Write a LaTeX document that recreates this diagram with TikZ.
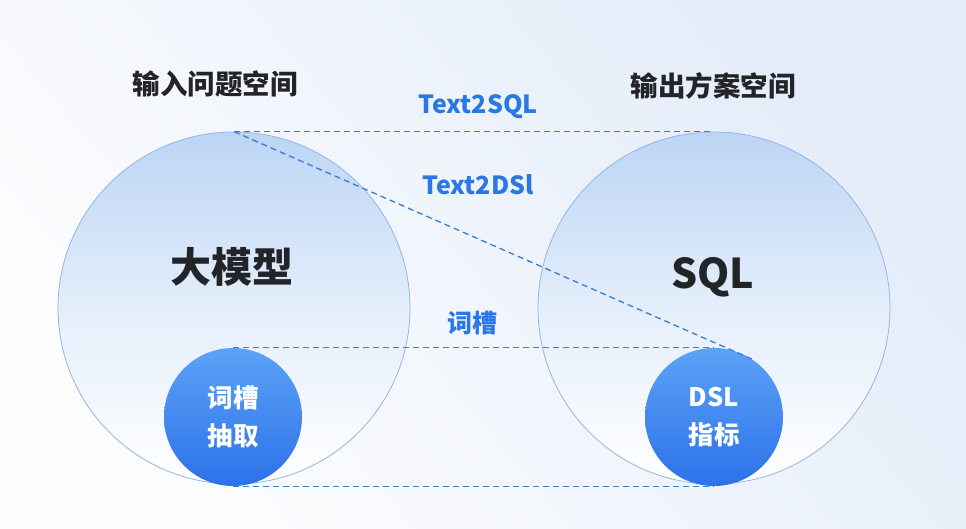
\documentclass[tikz,border=0pt]{standalone}
\usepackage{fontspec}
\setmainfont{Noto Sans CJK SC}
\definecolor{space top}{HTML}{BCD5F5}
\definecolor{space edge}{HTML}{93B6E6}
\definecolor{slot top}{HTML}{5CA2F6}
\definecolor{slot bottom}{HTML}{2C72EA}
\definecolor{link blue}{HTML}{3A7BD5}
\definecolor{label blue}{HTML}{2A78E4}
\definecolor{title gray}{HTML}{222428}
\definecolor{back top}{HTML}{E3ECF9}
\definecolor{back bottom}{HTML}{FDFDFE}
\tikzset{
  spacecircle/.style={circle, draw=space edge, line width=0.8pt, minimum size=352pt, inner sep=0pt,
    top color=space top, bottom color=white, middle color=space top!40!white},
  slotcircle/.style={circle, minimum size=138pt, inner sep=0pt, top color=slot top, bottom color=slot bottom,
    text=white, align=center, font=\bfseries\fontsize{25.5}{38}\selectfont},
  link/.style={draw=link blue, dash pattern=on 6pt off 4pt, line width=1.3pt},
  heading/.style={text=title gray, font=\bfseries\fontsize{27.5}{30}\selectfont},
  linklabel/.style={text=label blue, font=\bfseries\fontsize{25}{28}\selectfont},
  spacename/.style={text=title gray, font=\bfseries\fontsize{41}{44}\selectfont}
}
\begin{document}
\begin{tikzpicture}[x=1pt, y=-1pt]
    \useasboundingbox (0,0) rectangle (966,528);
    \shade[top color=back top, bottom color=back bottom, shading angle=-50] (0,0) rectangle (966,528);
    \node[spacecircle] (inspace) at (234,308) {};
    \node[spacecircle] (outspace) at (714,308) {};
    \node[slotcircle] (inslot) at (233,417) {词槽\\抽取};
    \node[slotcircle] (outslot) at (714,417) {DSL\\指标};
    \draw[link] (inspace.north) -- (outspace.north);
    \draw[link] (inspace.north) -- (outslot.57);
    \draw[link] (inslot.north) -- (outslot.north);
    \draw[link] (inslot.south) -- (outslot.south);
    \node[heading] (inhead) at (215,84) {输入问题空间};
    \node[heading] (outhead) at (713,86) {输出方案空间};
    \node[linklabel] (sqllink) at (478,107) {Text2SQL};
    \node[linklabel] (dsllink) at (478,185) {Text2DSl};
    \node[linklabel] (slotlink) at (472,323) {词槽};
    \node[spacename] (model) at (232,267) {大模型};
    \node[spacename] (sql) at (713,277) {SQL};
  \end{tikzpicture}
\end{document}
